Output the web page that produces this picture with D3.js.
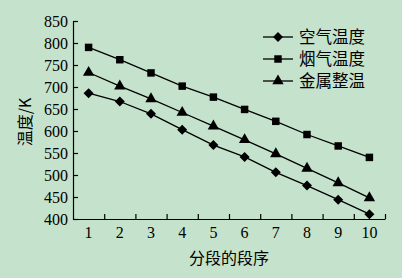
<!DOCTYPE html>
<html>
<head>
<meta charset="utf-8">
<script src="https://cdn.jsdelivr.net/npm/d3@7"></script>
<style>
  html, body { margin: 0; padding: 0; background: #c5e3cc; }
  #chart { width: 402px; height: 278px; }
</style>
</head>
<body>
<div id="chart"></div>
<script>
(function () {
  'use strict';

  // --- Data ---
  var segments = [1, 2, 3, 4, 5, 6, 7, 8, 9, 10];
  var airTemp   = [686, 667, 639, 603, 568, 541, 506, 476, 444, 411];
  var flueTemp  = [790, 762, 732, 702, 677, 649, 622, 592, 566, 540];
  var metalTemp = [733, 702, 673, 642, 611, 580, 548, 515, 482, 448];
  var yTicks = [400, 450, 500, 550, 600, 650, 700, 750, 800, 850];

  var seriesNames = ['空气温度', '烟气温度', '金属整温'];
  var seriesShapes = ['diamond', 'square', 'triangle'];
  var seriesValues = [airTemp, flueTemp, metalTemp];

  var width = 402, height = 278;
  var margin = { top: 21, right: 17, bottom: 59, left: 73 };
  var innerW = width - margin.left - margin.right;
  var innerH = height - margin.top - margin.bottom;

  var numFont = '"Liberation Serif", "Times New Roman", serif';
  var cjkFont = '"Noto Sans CJK SC", "Noto Sans", sans-serif';

  var svg = d3.select('#chart').append('svg')
    .attr('width', width)
    .attr('height', height);

  svg.append('rect')
    .attr('width', width).attr('height', height)
    .attr('fill', '#c5e3cc');

  var g = svg.append('g')
    .attr('transform', 'translate(' + margin.left + ',' + margin.top + ')');

  var x = d3.scaleLinear().domain([0.5, 10.5]).range([0, innerW]);
  var y = d3.scaleLinear().domain([400, 850]).range([innerH, 0]);

  // --- Axes ---
  var xAxis = d3.axisBottom(x)
    .tickValues(d3.range(1.5, 11, 1))
    .tickSizeInner(-5)
    .tickSizeOuter(0)
    .tickFormat('');
  var gx = g.append('g')
    .attr('transform', 'translate(0,' + innerH + ')')
    .call(xAxis);
  gx.select('.domain').attr('stroke', '#000').attr('stroke-width', 1.2);
  gx.selectAll('.tick line').attr('stroke', '#000').attr('stroke-width', 1.2);

  g.append('g').selectAll('text')
    .data(segments)
    .join('text')
    .attr('x', function (d) { return x(d); })
    .attr('y', innerH + 19)
    .attr('text-anchor', 'middle')
    .attr('font-family', numFont)
    .attr('font-size', '16px')
    .attr('fill', '#000')
    .text(function (d) { return d; });

  var yAxis = d3.axisLeft(y)
    .tickValues(yTicks)
    .tickSizeInner(-5)
    .tickSizeOuter(0)
    .tickPadding(5);
  var gy = g.append('g').call(yAxis);
  gy.select('.domain').attr('stroke', '#000').attr('stroke-width', 1.2);
  gy.selectAll('.tick line').attr('stroke', '#000').attr('stroke-width', 1.2);
  gy.selectAll('.tick text')
    .attr('x', -5)
    .attr('font-family', numFont)
    .attr('font-size', '16px')
    .attr('fill', '#000');

  // Axis titles
  svg.append('text')
    .attr('x', 229)
    .attr('y', 264)
    .attr('text-anchor', 'middle')
    .attr('font-family', cjkFont)
    .attr('font-size', '16px')
    .attr('fill', '#000')
    .text('分段的段序');

  svg.append('text')
    .attr('transform', 'translate(31,122) rotate(-90)')
    .attr('text-anchor', 'middle')
    .attr('font-family', cjkFont)
    .attr('font-size', '16px')
    .attr('fill', '#000')
    .text('温度/K');

  // --- Markers ---
  function symbolFor(shape) {
    if (shape === 'diamond') return d3.symbol().type(d3.symbolDiamond2).size(64)();
    if (shape === 'square') return d3.symbol().type(d3.symbolSquare).size(56)();
    return d3.symbol().type(d3.symbolTriangle).size(56)();
  }

  var line = d3.line()
    .x(function (d, i) { return x(segments[i]); })
    .y(function (d) { return y(d); });

  seriesValues.forEach(function (vals, si) {
    g.append('path')
      .datum(vals)
      .attr('d', line)
      .attr('fill', 'none')
      .attr('stroke', '#000')
      .attr('stroke-width', 1.3);

    g.append('g').selectAll('path')
      .data(vals)
      .join('path')
      .attr('transform', function (d, i) {
        return 'translate(' + x(segments[i]) + ',' + y(d) + ')';
      })
      .attr('d', symbolFor(seriesShapes[si]))
      .attr('fill', '#000');
  });

  // --- Legend ---
  var legend = svg.append('g').attr('transform', 'translate(263,37)');
  var rows = legend.selectAll('g')
    .data(seriesNames)
    .join('g')
    .attr('transform', function (d, i) { return 'translate(0,' + (i * 22) + ')'; });

  rows.append('line')
    .attr('x1', 0).attr('x2', 30)
    .attr('stroke', '#000').attr('stroke-width', 1.3);
  rows.append('path')
    .attr('transform', 'translate(15,0)')
    .attr('d', function (d, i) { return symbolFor(seriesShapes[i]); })
    .attr('fill', '#000');
  rows.append('text')
    .attr('x', 36)
    .attr('dy', '0.36em')
    .attr('font-family', cjkFont)
    .attr('font-size', '16.5px')
    .attr('fill', '#000')
    .text(function (d) { return d; });
})();
</script>
</body>
</html>
